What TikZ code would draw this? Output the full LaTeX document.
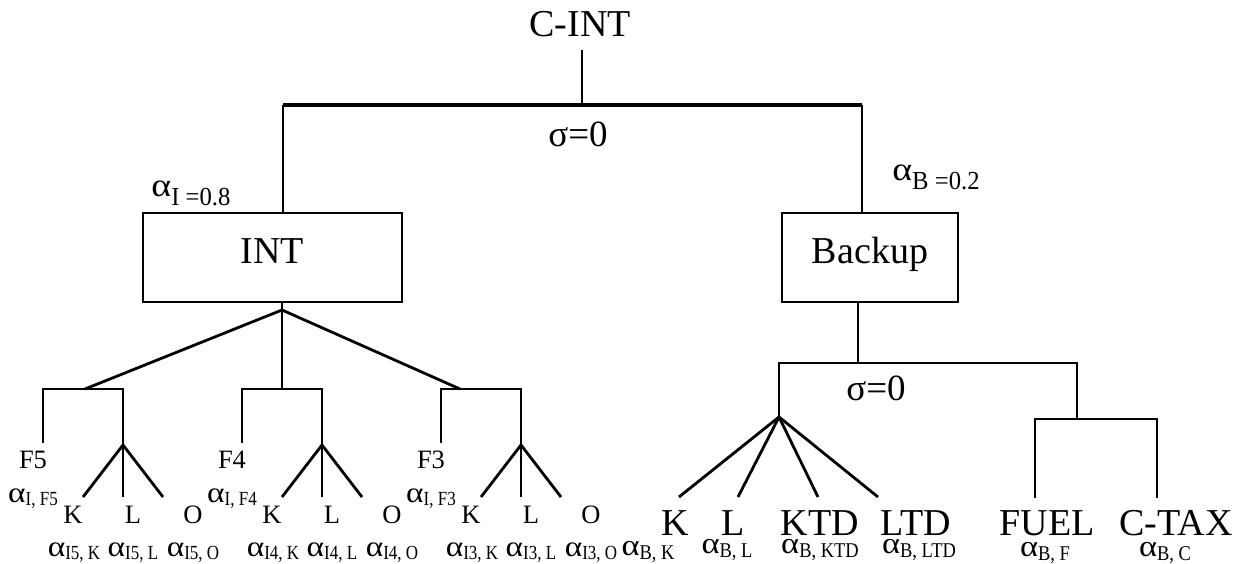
\documentclass[tikz,border=0pt]{standalone}
\usepackage{graphicx}
\usepackage{fontspec}
\setmainfont{Liberation Serif}
\newcommand\fs[1]{\fontsize{#1}{#1}\selectfont}
\newcommand\alg[1]{\scalebox{1.15}[1]{\fs{#1}α}}
\newcommand\alA[1]{\alg{29}\raisebox{-3pt}{\scalebox{0.85}[1]{\fs{20}#1}}}
\newcommand\alB[1]{\alg{30}\raisebox{-4pt}{\scalebox{0.88}[1]{\fs{21}#1}}}
\newcommand\alT[1]{\alg{33}\raisebox{-9pt}{\scalebox{0.95}[1]{\fs{26}#1}}}
\begin{document}
\begin{tikzpicture}[x=1pt,y=-1pt,line width=2.8pt,
  box/.style={draw,line width=2.8pt,inner sep=0pt,font=\fs{38},text height=25pt,text depth=14pt},
  lab/.style={inner sep=0pt,anchor=base},
  big/.style={lab,font=\fs{38}},
  sm/.style={lab,font=\fs{26.5}},
  sig/.style={lab,font=\fs{37}}]
\useasboundingbox (0,0) rectangle (1245,564);
% top
\node[big] (cint) at (580,37) {C-INT};
\coordinate (t1) at (582,50);
\coordinate (j0) at (582,105);
\coordinate (iL) at (283,105);
\coordinate (iR) at (862,105);
\draw[line width=2.2pt] (t1) -- (j0);
\node[sig] (s1) at (578,147) {σ=0};
\node[box,minimum width=259pt,minimum height=89pt] (int) at (272.5,257.5) {INT};
\node[box,minimum width=176pt,minimum height=89pt] (bk) at (870,257.5) {Backup};
\draw (int.north -| iL) -- (iL);
\draw (bk.north -| iR) -- (iR);
\draw[line width=3.5pt] (iL) -- (iR);
\node[lab] (aI) at (191,197) {\alT{I =0.8}};
\node[lab] (aB) at (936,181) {\alT{B =0.2}};
% INT subtree
\coordinate (ia) at (282,310);
\draw (int.south -| ia) -- (ia);
\foreach \n/\dx/\jx in {5/0/85,4/199/282,3/398/460}{
  \coordinate (gj\n) at (\jx,389);
  \coordinate (gl\n) at ({43+\dx},389);
  \coordinate (gr\n) at ({123+\dx},389);
  \coordinate (gf\n) at ({43+\dx},443);
  \coordinate (ga\n) at ({123+\dx},445);
  \coordinate (gk\n) at ({83+\dx},497);
  \coordinate (gm\n) at ({123+\dx},497);
  \coordinate (go\n) at ({163+\dx},497);
  \draw (ia) -- (gj\n);
  \draw (gf\n) -- (gl\n) -- (gr\n) -- (ga\n);
  \draw (gk\n) -- (ga\n) -- (go\n);
  \draw (ga\n) -- (gm\n);
  \node[sm] (F\n) at ({33+\dx},468) {F\n};
  \node[lab] (aF\n) at ({33+\dx},502) {\alA{I, F\n}};
  \node[sm] (K\n) at ({73+\dx},523) {K};
  \node[sm] (L\n) at ({133+\dx},523) {L};
  \node[sm] (O\n) at ({193+\dx},523) {O};
  \node[lab] (aK\n) at ({74+\dx},556) {\alA{I\n, K}};
  \node[lab] (aL\n) at ({133+\dx},556) {\alA{I\n, L}};
  \node[lab] (aO\n) at ({193+\dx},556) {\alA{I\n, O}};
}
% Backup subtree
\coordinate (bj) at (858,363);
\coordinate (bl) at (779,363);
\coordinate (br) at (1077,363);
\coordinate (ba) at (779,417);
\coordinate (bf) at (1077,419);
\coordinate (bfl) at (1035,419);
\coordinate (bfr) at (1157,419);
\coordinate (eK) at (679,497);
\coordinate (eL) at (738,497);
\coordinate (eKTD) at (818,497);
\coordinate (eLTD) at (878,497);
\coordinate (eF) at (1035,498);
\coordinate (eC) at (1157,498);
\draw (bk.south -| bj) -- (bj);
\draw (ba) -- (bl) -- (br) -- (bf);
\draw (eF) -- (bfl) -- (bfr) -- (eC);
\foreach \e in {eK,eL,eKTD,eLTD} { \draw (ba) -- (\e); }
\node[sig] (s2) at (876,400) {σ=0};
\node[big] (BK) at (675,535) {K};
\node[big] (BL) at (733,535) {L};
\node[big] (BKTD) at (820,535) {KTD};
\node[big] (BLTD) at (916,535) {LTD};
\node[big] (BF) at (1047,535) {FUEL};
\node[big] (BC) at (1176,535) {C-TAX};
\node[lab] (aBK) at (648,555) {\alB{B, K}};
\node[lab] (aBL) at (727,553) {\alB{B, L}};
\node[lab] (aBKTD) at (820,553) {\alB{B, KTD}};
\node[lab] (aBLTD) at (919,553) {\alB{B, LTD}};
\node[lab] (aBF) at (1045,556) {\alB{B, F}};
\node[lab] (aBC) at (1165,556) {\alB{B, C}};
\end{tikzpicture}
\end{document}
